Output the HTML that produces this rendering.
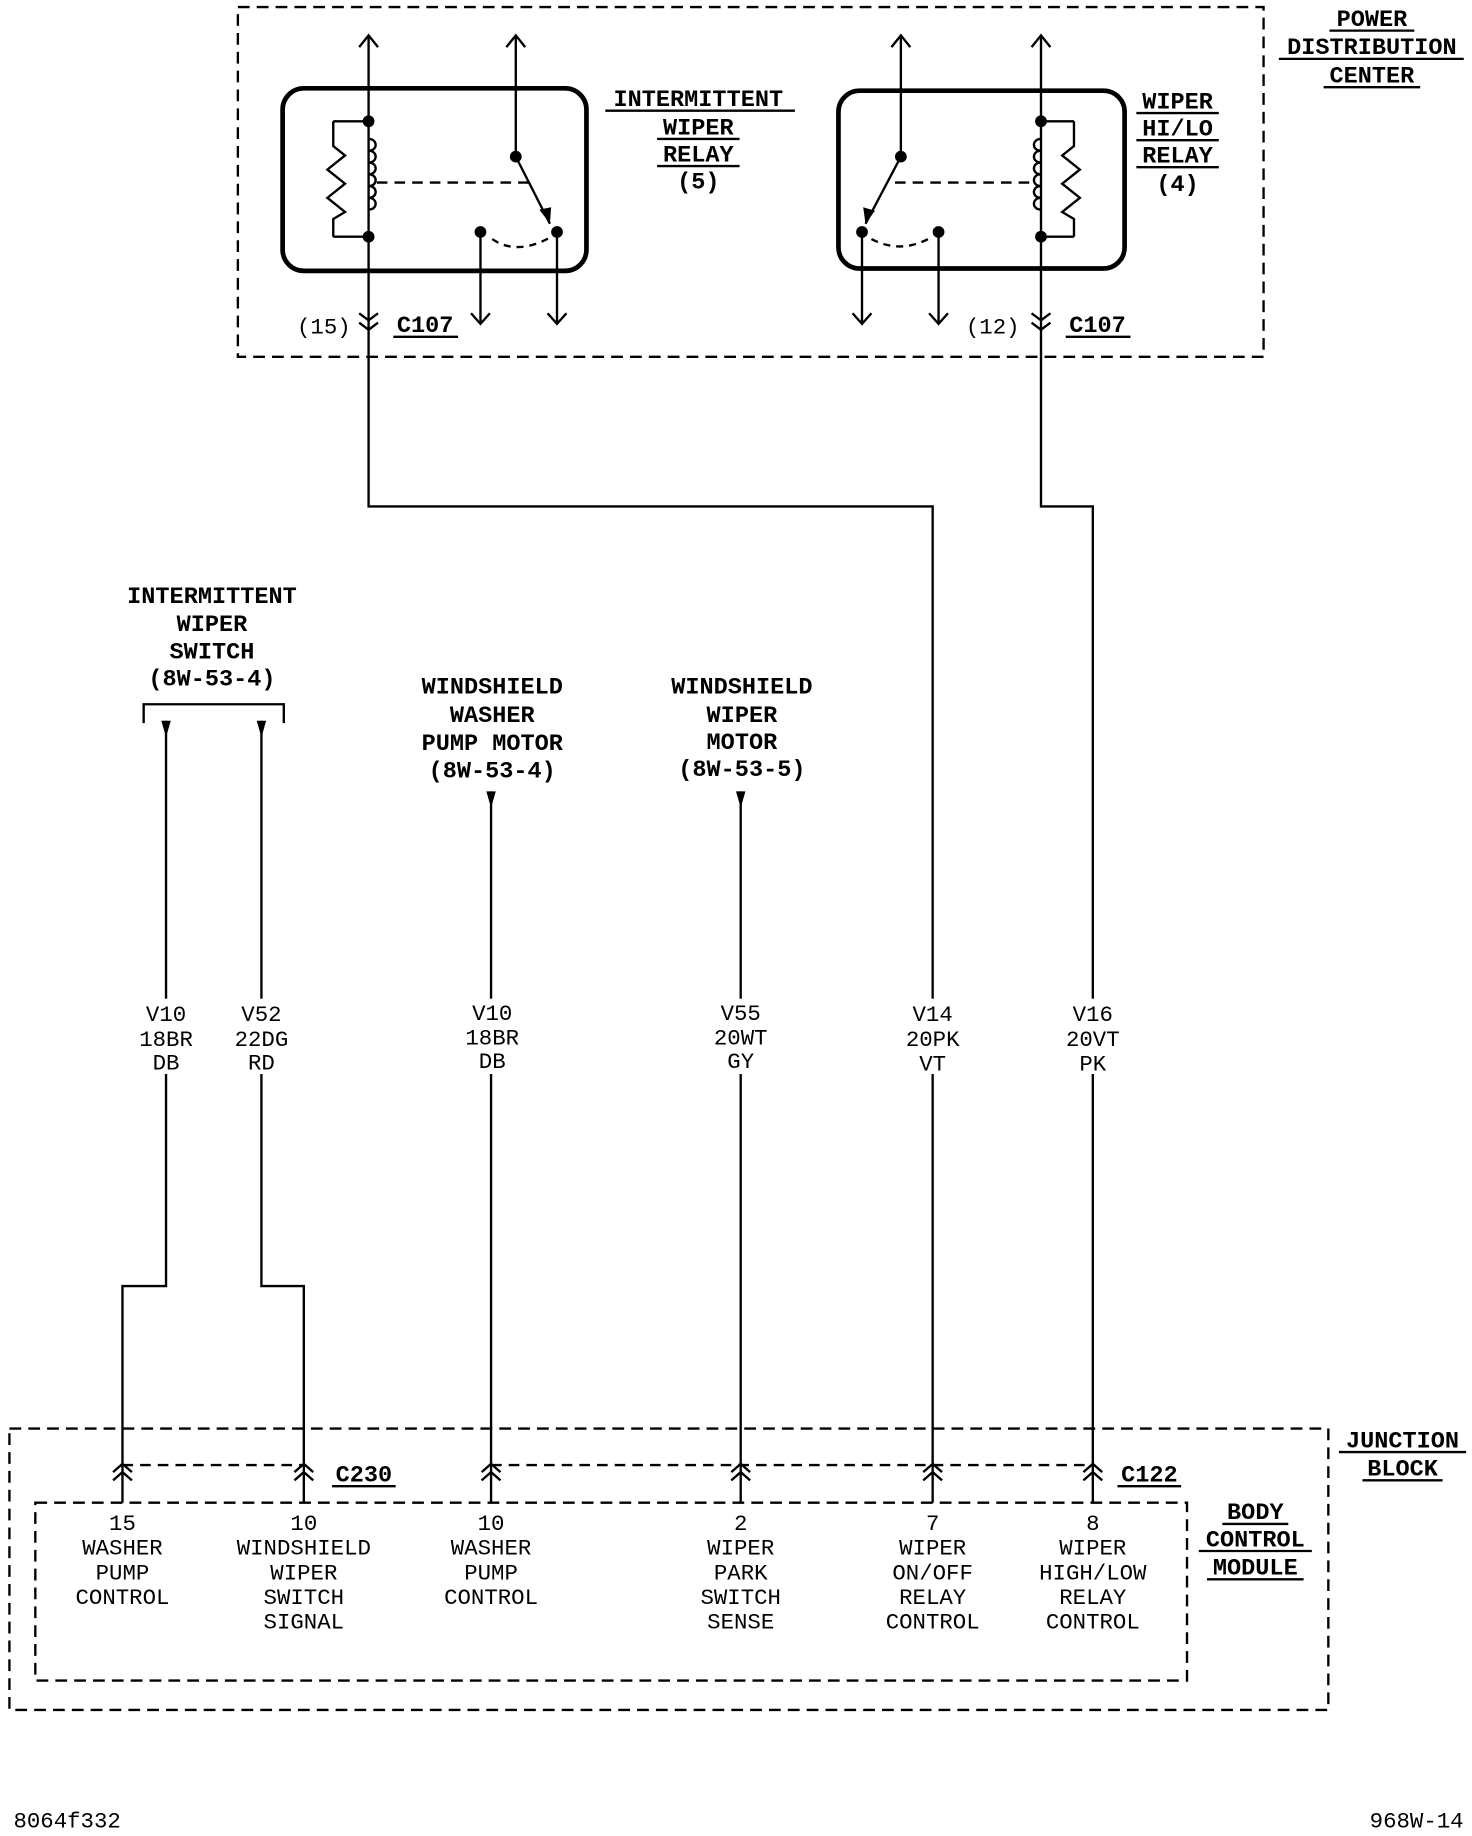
<!DOCTYPE html>
<html><head><meta charset="utf-8"><style>
html,body{margin:0;padding:0;background:#fff;}
svg{display:block}
.n{font-family:"Liberation Mono",monospace;font-size:19px;fill:#000;text-anchor:middle}
.b{font-family:"Liberation Mono",monospace;font-size:20px;font-weight:bold;fill:#000;text-anchor:middle}
</style></head><body>
<svg width="1472" height="1836" viewBox="0 0 1250 1559" preserveAspectRatio="none" xmlns="http://www.w3.org/2000/svg">
<rect width="1250" height="1559" fill="#fff"/>
<g fill="none" stroke="#000" stroke-width="2">
<rect x="202" y="6" width="871" height="297" stroke-dasharray="10,6"/>
<rect x="240" y="75" width="258" height="155" rx="18" stroke-width="4"/>
<line x1="313" y1="30" x2="313" y2="290"/>
<polyline points="305,40 313,30 321,40"/>
<polyline points="283,103 313,103"/><polyline points="283,201 313,201"/>
<polyline points="283,103 283,124 293,132 278,144 293,156 278,168 293,180 283,186 283,201"/>
<path d="M313,118 c8,0 8,10 0,10 c8,0 8,10 0,10 c8,0 8,10 0,10 c8,0 8,10 0,10 c8,0 8,10 0,10 c8,0 8,10 0,10"/>
<line x1="320" y1="155" x2="455" y2="155" stroke-dasharray="9,6"/>
<line x1="438" y1="30" x2="438" y2="133"/><polyline points="430,40 438,30 446,40"/>
<line x1="438" y1="133" x2="467" y2="190"/>
<path d="M418,203 Q440,218 470,200" stroke-dasharray="6,5"/>
<line x1="408" y1="197" x2="408" y2="275"/><polyline points="400,266 408,275 416,266"/>
<line x1="473" y1="197" x2="473" y2="275"/><polyline points="465,266 473,275 481,266"/>
<polyline points="305,266 313,272 321,266"/><polyline points="305,274 313,280 321,274"/>
<rect x="712" y="77" width="243" height="151" rx="18" stroke-width="4"/>
<line x1="884" y1="30" x2="884" y2="290"/><polyline points="876,40 884,30 892,40"/>
<polyline points="884,103 912,103"/><polyline points="884,201 912,201"/>
<polyline points="912,103 912,124 902,132 917,144 902,156 917,168 902,180 912,186 912,201"/>
<path d="M884,118 c-8,0 -8,10 0,10 c-8,0 -8,10 0,10 c-8,0 -8,10 0,10 c-8,0 -8,10 0,10 c-8,0 -8,10 0,10 c-8,0 -8,10 0,10"/>
<line x1="760" y1="155" x2="877" y2="155" stroke-dasharray="9,6"/>
<line x1="765" y1="30" x2="765" y2="133"/><polyline points="757,40 765,30 773,40"/>
<line x1="765" y1="133" x2="735" y2="190"/>
<path d="M740,203 Q765,216 790,202" stroke-dasharray="6,5"/>
<line x1="732" y1="197" x2="732" y2="275"/><polyline points="724,266 732,275 740,266"/>
<line x1="797" y1="197" x2="797" y2="275"/><polyline points="789,266 797,275 805,266"/>
<polyline points="876,266 884,272 892,266"/><polyline points="876,274 884,280 892,274"/>
<polyline points="313,290 313,430 792,430 792,1258"/>
<polyline points="884,290 884,430 928,430 928,1258"/>
<polyline points="141,612 141,1092 104,1092 104,1258"/>
<polyline points="222,612 222,1092 258,1092 258,1258"/>
<line x1="417" y1="672" x2="417" y2="1258"/>
<line x1="629" y1="672" x2="629" y2="1258"/>
<polyline points="122,614 122,598 241,598 241,614"/>
<rect x="8" y="1213" width="1120" height="239" stroke-dasharray="10,6"/>
<rect x="30" y="1276" width="978" height="151" stroke-dasharray="10,6"/>
<line x1="104" y1="1244" x2="258" y2="1244" stroke-dasharray="9,6"/>
<line x1="417" y1="1244" x2="928" y2="1244" stroke-dasharray="9,6"/>
</g>
<g fill="#000">
<circle cx="313" cy="103" r="5"/><circle cx="313" cy="201" r="5"/>
<circle cx="438" cy="133" r="5"/><circle cx="408" cy="197" r="5"/><circle cx="473" cy="197" r="5"/>
<polygon points="467,190 458,178 468,176"/>
<circle cx="884" cy="103" r="5"/><circle cx="884" cy="201" r="5"/>
<circle cx="765" cy="133" r="5"/><circle cx="732" cy="197" r="5"/><circle cx="797" cy="197" r="5"/>
<polygon points="735,190 733,176 743,179"/>
<polygon points="137,612 145,612 141,626"/><polygon points="218,612 226,612 222,626"/>
<polygon points="413,672 421,672 417,686"/><polygon points="625,672 633,672 629,686"/>
</g>
<g fill="none" stroke="#000" stroke-width="2">
<polyline points="96,1250 104,1243 112,1250"/><polyline points="96,1257 104,1250 112,1257"/>
<polyline points="250,1250 258,1243 266,1250"/><polyline points="250,1257 258,1250 266,1257"/>
<polyline points="409,1250 417,1243 425,1250"/><polyline points="409,1257 417,1250 425,1257"/>
<polyline points="621,1250 629,1243 637,1250"/><polyline points="621,1257 629,1250 637,1257"/>
<polyline points="784,1250 792,1243 800,1250"/><polyline points="784,1257 792,1250 800,1257"/>
<polyline points="920,1250 928,1243 936,1250"/><polyline points="920,1257 928,1250 936,1257"/>
<line x1="104" y1="1258" x2="104" y2="1276"/><line x1="258" y1="1258" x2="258" y2="1276"/>
<line x1="417" y1="1258" x2="417" y2="1276"/><line x1="629" y1="1258" x2="629" y2="1276"/>
<line x1="792" y1="1258" x2="792" y2="1276"/><line x1="928" y1="1258" x2="928" y2="1276"/>
</g>
<g class="b">
<text x="1165" y="22">POWER</text><text x="1165" y="46">DISTRIBUTION</text><text x="1165" y="70">CENTER</text>
<text x="593" y="90">INTERMITTENT</text><text x="593" y="114">WIPER</text><text x="593" y="137">RELAY</text><text x="593" y="160">(5)</text>
<text x="1000" y="92">WIPER</text><text x="1000" y="115">HI/LO</text><text x="1000" y="138">RELAY</text><text x="1000" y="162">(4)</text>
<text x="361" y="282">C107</text><text x="932" y="282">C107</text>
<text x="180" y="512">INTERMITTENT</text><text x="180" y="536">WIPER</text><text x="180" y="559">SWITCH</text><text x="180" y="582">(8W-53-4)</text>
<text x="418" y="589">WINDSHIELD</text><text x="418" y="613">WASHER</text><text x="418" y="637">PUMP MOTOR</text><text x="418" y="660">(8W-53-4)</text>
<text x="630" y="589">WINDSHIELD</text><text x="630" y="613">WIPER</text><text x="630" y="636">MOTOR</text><text x="630" y="659">(8W-53-5)</text>
<text x="309" y="1258">C230</text><text x="976" y="1258">C122</text>
<text x="1191" y="1229">JUNCTION</text><text x="1191" y="1253">BLOCK</text>
<text x="1066" y="1290">BODY</text><text x="1066" y="1313">CONTROL</text><text x="1066" y="1337">MODULE</text>
</g>
<g stroke="#000" stroke-width="2">
<line x1="514" y1="94" x2="675" y2="94"/><line x1="558" y1="118" x2="628" y2="118"/><line x1="558" y1="141" x2="628" y2="141"/>
<line x1="1129" y1="26" x2="1201" y2="26"/><line x1="1086" y1="50" x2="1243" y2="50"/><line x1="1124" y1="74" x2="1206" y2="74"/>
<line x1="965" y1="96" x2="1035" y2="96"/><line x1="965" y1="119" x2="1035" y2="119"/><line x1="965" y1="142" x2="1035" y2="142"/>
<line x1="334" y1="286" x2="389" y2="286"/><line x1="905" y1="286" x2="960" y2="286"/>
<line x1="282" y1="1262" x2="336" y2="1262"/><line x1="949" y1="1262" x2="1003" y2="1262"/>
<line x1="1137" y1="1233" x2="1245" y2="1233"/><line x1="1157" y1="1257" x2="1225" y2="1257"/>
<line x1="1038" y1="1294" x2="1094" y2="1294"/><line x1="1018" y1="1317" x2="1114" y2="1317"/><line x1="1025" y1="1341" x2="1107" y2="1341"/>
</g>
<g class="n">
<text x="275" y="283">(15)</text><text x="843" y="283">(12)</text>
<rect x="112" y="848" width="58" height="64" fill="#fff"/><rect x="193" y="848" width="58" height="64" fill="#fff"/>
<rect x="388" y="848" width="58" height="64" fill="#fff"/><rect x="600" y="848" width="58" height="64" fill="#fff"/>
<rect x="763" y="848" width="58" height="64" fill="#fff"/><rect x="899" y="848" width="58" height="64" fill="#fff"/>
<text x="141" y="867">V10</text><text x="141" y="888">18BR</text><text x="141" y="908">DB</text>
<text x="222" y="867">V52</text><text x="222" y="888">22DG</text><text x="222" y="908">RD</text>
<text x="418" y="866">V10</text><text x="418" y="887">18BR</text><text x="418" y="907">DB</text>
<text x="629" y="866">V55</text><text x="629" y="887">20WT</text><text x="629" y="907">GY</text>
<text x="792" y="867">V14</text><text x="792" y="888">20PK</text><text x="792" y="909">VT</text>
<text x="928" y="867">V16</text><text x="928" y="888">20VT</text><text x="928" y="909">PK</text>
<text x="104" y="1299">15</text><text x="104" y="1320">WASHER</text><text x="104" y="1341">PUMP</text><text x="104" y="1362">CONTROL</text>
<text x="258" y="1299">10</text><text x="258" y="1320">WINDSHIELD</text><text x="258" y="1341">WIPER</text><text x="258" y="1362">SWITCH</text><text x="258" y="1383">SIGNAL</text>
<text x="417" y="1299">10</text><text x="417" y="1320">WASHER</text><text x="417" y="1341">PUMP</text><text x="417" y="1362">CONTROL</text>
<text x="629" y="1299">2</text><text x="629" y="1320">WIPER</text><text x="629" y="1341">PARK</text><text x="629" y="1362">SWITCH</text><text x="629" y="1383">SENSE</text>
<text x="792" y="1299">7</text><text x="792" y="1320">WIPER</text><text x="792" y="1341">ON/OFF</text><text x="792" y="1362">RELAY</text><text x="792" y="1383">CONTROL</text>
<text x="928" y="1299">8</text><text x="928" y="1320">WIPER</text><text x="928" y="1341">HIGH/LOW</text><text x="928" y="1362">RELAY</text><text x="928" y="1383">CONTROL</text>
<text x="57" y="1552">8064f332</text><text x="1203" y="1552">968W-14</text>
</g>
</svg>
</body></html>
